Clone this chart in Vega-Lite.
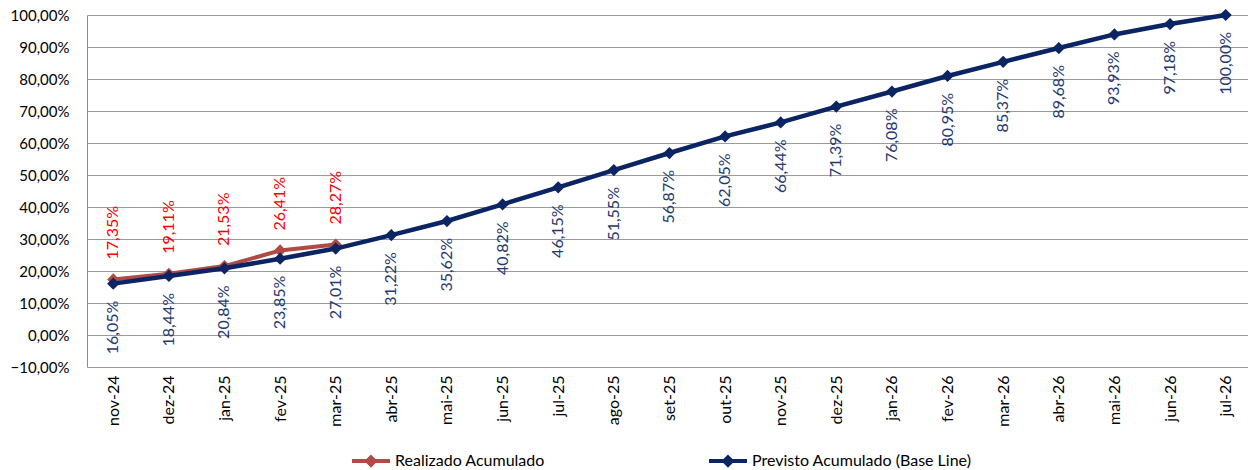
{
  "$schema": "https://vega.github.io/schema/vega-lite/v6.json",
  "width": 1161,
  "height": 352,
  "autosize": {"type": "none"},
  "padding": {"left": 87, "top": 15, "right": 0, "bottom": 103},
  "background": "white",
  "config": {
    "locale": {"number": {"decimal": ",", "thousands": ".", "grouping": [3], "currency": ["R$", ""]}},
    "view": {"stroke": null},
    "font": "Lato"
  },
  "data": {
    "values": [
      {"mes": "nov-24", "serie": "Realizado Acumulado", "valor": 0.1735},
      {"mes": "dez-24", "serie": "Realizado Acumulado", "valor": 0.1911},
      {"mes": "jan-25", "serie": "Realizado Acumulado", "valor": 0.2153},
      {"mes": "fev-25", "serie": "Realizado Acumulado", "valor": 0.2641},
      {"mes": "mar-25", "serie": "Realizado Acumulado", "valor": 0.2827},
      {"mes": "nov-24", "serie": "Previsto Acumulado (Base Line)", "valor": 0.1605},
      {"mes": "dez-24", "serie": "Previsto Acumulado (Base Line)", "valor": 0.1844},
      {"mes": "jan-25", "serie": "Previsto Acumulado (Base Line)", "valor": 0.2084},
      {"mes": "fev-25", "serie": "Previsto Acumulado (Base Line)", "valor": 0.2385},
      {"mes": "mar-25", "serie": "Previsto Acumulado (Base Line)", "valor": 0.2701},
      {"mes": "abr-25", "serie": "Previsto Acumulado (Base Line)", "valor": 0.3122},
      {"mes": "mai-25", "serie": "Previsto Acumulado (Base Line)", "valor": 0.3562},
      {"mes": "jun-25", "serie": "Previsto Acumulado (Base Line)", "valor": 0.4082},
      {"mes": "jul-25", "serie": "Previsto Acumulado (Base Line)", "valor": 0.4615},
      {"mes": "ago-25", "serie": "Previsto Acumulado (Base Line)", "valor": 0.5155},
      {"mes": "set-25", "serie": "Previsto Acumulado (Base Line)", "valor": 0.5687},
      {"mes": "out-25", "serie": "Previsto Acumulado (Base Line)", "valor": 0.6205},
      {"mes": "nov-25", "serie": "Previsto Acumulado (Base Line)", "valor": 0.6644},
      {"mes": "dez-25", "serie": "Previsto Acumulado (Base Line)", "valor": 0.7139},
      {"mes": "jan-26", "serie": "Previsto Acumulado (Base Line)", "valor": 0.7608},
      {"mes": "fev-26", "serie": "Previsto Acumulado (Base Line)", "valor": 0.8095},
      {"mes": "mar-26", "serie": "Previsto Acumulado (Base Line)", "valor": 0.8537},
      {"mes": "abr-26", "serie": "Previsto Acumulado (Base Line)", "valor": 0.8968},
      {"mes": "mai-26", "serie": "Previsto Acumulado (Base Line)", "valor": 0.9393},
      {"mes": "jun-26", "serie": "Previsto Acumulado (Base Line)", "valor": 0.9718},
      {"mes": "jul-26", "serie": "Previsto Acumulado (Base Line)", "valor": 1.0}
    ]
  },
  "encoding": {
    "x": {
      "field": "mes",
      "type": "ordinal",
      "scale": {
        "domain": ["nov-24", "dez-24", "jan-25", "fev-25", "mar-25", "abr-25", "mai-25", "jun-25", "jul-25", "ago-25", "set-25", "out-25", "nov-25", "dez-25", "jan-26", "fev-26", "mar-26", "abr-26", "mai-26", "jun-26", "jul-26"],
        "padding": 0.437,
        "align": 0.54
      },
      "axis": {
        "title": null,
        "labelAngle": -90,
        "labelAlign": "right",
        "labelBaseline": "middle",
        "labelFontSize": 16,
        "labelFont": "Lato",
        "labelColor": "#000000",
        "labelPadding": 8,
        "ticks": false,
        "domain": false,
        "grid": false
      }
    },
    "y": {
      "field": "valor",
      "type": "quantitative",
      "scale": {"domain": [-0.1, 1.0], "nice": false, "zero": false},
      "axis": {
        "title": null,
        "values": [-0.1, 0, 0.1, 0.2, 0.3, 0.4, 0.5, 0.6, 0.7, 0.8, 0.9, 1.0],
        "format": ".2%",
        "labelFontSize": 15,
        "labelFont": "Lato",
        "labelColor": "#000000",
        "labelPadding": 18,
        "ticks": false,
        "domain": true,
        "domainColor": "#8C8C8C",
        "domainWidth": 1,
        "grid": true,
        "gridColor": "#9A9A9A",
        "gridWidth": 1,
        "gridOpacity": 1
      }
    }
  },
  "layer": [
    {
      "transform": [{"filter": "datum.serie === 'Realizado Acumulado'"}],
      "mark": {"type": "line", "strokeWidth": 4, "point": {"filled": true, "shape": "diamond", "size": 150, "opacity": 1}},
      "encoding": {
        "color": {
          "field": "serie",
          "type": "nominal",
          "scale": {
            "domain": ["Realizado Acumulado", "Previsto Acumulado (Base Line)"],
            "range": ["#AF4A44", "#0B2463"]
          },
          "legend": {
            "orient": "none",
            "legendX": 263,
            "legendY": 425,
            "direction": "horizontal",
            "title": null,
            "symbolType": "M-1,0H1M0,-0.2L0.2,0L0,0.2L-0.2,0Z",
            "symbolSize": 1444,
            "symbolStrokeWidth": 4,
            "symbolOpacity": 1,
            "labelFontSize": 16,
            "labelFont": "Lato",
            "labelColor": "#000000",
            "labelOffset": 3,
            "labelLimit": 0,
            "columnPadding": 156,
            "padding": 0,
            "encode": {
              "symbols": {
                "update": {
                  "fill": {"scale": "color", "field": "value"},
                  "stroke": {"scale": "color", "field": "value"}
                }
              }
            }
          }
        }
      }
    },
    {
      "transform": [{"filter": "datum.serie === 'Previsto Acumulado (Base Line)'"}],
      "mark": {"type": "line", "strokeWidth": 4.5, "point": {"filled": true, "shape": "diamond", "size": 150, "opacity": 1}},
      "encoding": {
        "color": {"field": "serie", "type": "nominal"}
      }
    },
    {
      "transform": [{"filter": "datum.serie === 'Realizado Acumulado'"}],
      "mark": {"type": "text", "angle": 270, "align": "left", "baseline": "middle", "dx": 20, "fontSize": 16, "font": "Lato", "color": "#FF0000"},
      "encoding": {
        "text": {"field": "valor", "type": "quantitative", "format": ".2%"}
      }
    },
    {
      "transform": [{"filter": "datum.serie === 'Previsto Acumulado (Base Line)'"}],
      "mark": {"type": "text", "angle": 270, "align": "right", "baseline": "middle", "dx": -17, "fontSize": 16, "font": "Lato", "color": "#1F3A70"},
      "encoding": {
        "text": {"field": "valor", "type": "quantitative", "format": ".2%"}
      }
    }
  ]
}
